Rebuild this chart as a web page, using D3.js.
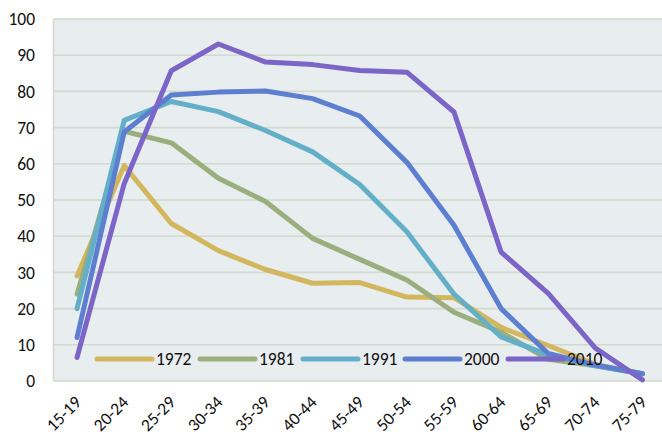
<!DOCTYPE html>
<html>
<head>
<meta charset="utf-8">
<script src="https://cdn.jsdelivr.net/npm/d3@7/dist/d3.min.js"></script>
<style>
  html, body { margin: 0; padding: 0; background: #ffffff; }
  svg { display: block; }
  text { font-family: Carlito, Lato, "Liberation Sans", sans-serif; fill: #111; }
</style>
</head>
<body>
<svg id="chart" width="662" height="439"></svg>
<script>
// Age groups along the x axis
const ageGroups = ["15-19","20-24","25-29","30-34","35-39","40-44","45-49",
                   "50-54","55-59","60-64","65-69","70-74","75-79"];

// Participation rate (%) by age group for each census year
const years = ["1972", "1981", "1991", "2000", "2010"];
const values1972 = [29, 59.5, 43.5, 36, 30.8, 27, 27.2, 23.2, 23, 14.8, 9.8, 4.6, 2];
const values1981 = [24, 69, 65.8, 56, 49.6, 39.4, 33.6, 27.9, 19, 13.5, 6, 4.2, 2];
const values1991 = [20, 72, 77.2, 74.4, 69.2, 63.3, 54.3, 41.2, 24, 12.2, 7.2, 4.2, 2];
const values2000 = [12, 68.8, 79, 79.8, 80.1, 78, 73.2, 60.4, 43, 20, 7.6, 4.4, 2];
const values2010 = [6.5, 54.5, 85.7, 93.1, 88.1, 87.4, 85.8, 85.3, 74.3, 35.6, 24.2, 9.1, 0.3];

const yTicks = [0, 10, 20, 30, 40, 50, 60, 70, 80, 90, 100];
const colors = ["#D3B75E", "#9BAE7D", "#64AFC8", "#5D7FD0", "#7B65C7"];

const series = [values1972, values1981, values1991, values2000, values2010]
  .map((vals, i) => ({ year: years[i], color: colors[i], values: vals }));

const svg = d3.select("#chart");
const plot = { left: 53.5, top: 19, right: 666, bottom: 381 };

const x = d3.scaleBand().domain(ageGroups).range([plot.left, plot.right]).padding(0);
const xc = d => x(d) + x.bandwidth() / 2;
const y = d3.scaleLinear().domain([0, 100]).range([plot.bottom, plot.top]);

// Plot background
svg.append("rect")
  .attr("x", plot.left).attr("y", plot.top)
  .attr("width", plot.right - plot.left).attr("height", plot.bottom - plot.top)
  .attr("fill", "#E8EDF0");

// Horizontal gridlines
svg.append("g")
  .selectAll("line").data(yTicks).join("line")
  .attr("x1", plot.left).attr("x2", plot.right)
  .attr("y1", d => y(d)).attr("y2", d => y(d))
  .attr("stroke", "#D2D9CD").attr("stroke-width", 1.6);

// Left border of the plot area
svg.append("line")
  .attr("x1", plot.left).attr("x2", plot.left)
  .attr("y1", plot.top).attr("y2", plot.bottom)
  .attr("stroke", "#D2D9CD").attr("stroke-width", 1.6);

// Y axis labels
const yAxis = d3.axisLeft(y).tickValues(yTicks).tickSize(0).tickPadding(0);
const gy = svg.append("g").attr("transform", `translate(35,0)`).call(yAxis);
gy.select(".domain").remove();
gy.selectAll("text")
  .attr("font-size", 17.5)
  .attr("font-family", "Carlito, Lato, 'Liberation Sans', sans-serif")
  .attr("fill", "#111");

// X axis labels, rotated
const xAxis = d3.axisBottom(x).tickSize(0).tickPadding(0);
const gx = svg.append("g").attr("transform", `translate(0,${plot.bottom})`).call(xAxis);
gx.select(".domain").remove();
gx.selectAll("text")
  .attr("font-size", 17.5)
  .attr("font-family", "Carlito, Lato, 'Liberation Sans', sans-serif")
  .attr("fill", "#111")
  .attr("text-anchor", "end")
  .attr("dy", "0.35em")
  .attr("transform", "translate(1,18) rotate(-45)");

// Series lines
const line = d3.line().x((d, i) => xc(ageGroups[i])).y(d => y(d));
svg.append("g")
  .selectAll("path").data(series).join("path")
  .attr("d", d => line(d.values))
  .attr("fill", "none")
  .attr("stroke", d => d.color)
  .attr("stroke-width", 5)
  .attr("stroke-linejoin", "round")
  .attr("stroke-linecap", "round");

// Legend inside the plot, along the bottom
const legendX = [97, 200, 303, 405, 508];
const legendY = 359;
const lg = svg.append("g").selectAll("g").data(series).join("g")
  .attr("transform", (d, i) => `translate(${legendX[i]},${legendY})`);
lg.append("line")
  .attr("x1", 0).attr("x2", 55).attr("y1", 0).attr("y2", 0)
  .attr("stroke", d => d.color).attr("stroke-width", 5)
  .attr("stroke-linecap", "round");
lg.append("text")
  .attr("x", 59).attr("y", 0).attr("dy", "0.35em")
  .attr("font-size", 17.5)
  .text(d => d.year);
</script>
</body>
</html>
